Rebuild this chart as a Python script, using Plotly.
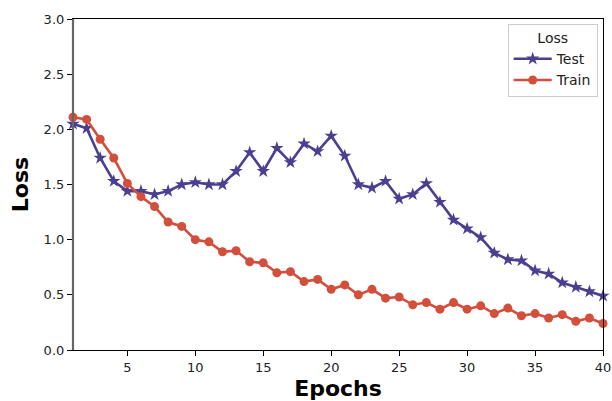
import plotly.graph_objects as go

epochs = list(range(1, 41))

test_loss = [2.05, 2.01, 1.74, 1.53, 1.44, 1.44, 1.41, 1.44, 1.50, 1.52,
             1.50, 1.50, 1.62, 1.79, 1.62, 1.83, 1.70, 1.87, 1.80, 1.94,
             1.76, 1.50, 1.47, 1.53, 1.37, 1.41, 1.51, 1.34, 1.18, 1.10,
             1.02, 0.88, 0.82, 0.81, 0.72, 0.69, 0.61, 0.57, 0.53, 0.49]

train_loss = [2.11, 2.09, 1.91, 1.74, 1.51, 1.39, 1.30, 1.16, 1.12, 1.00,
              0.98, 0.89, 0.90, 0.80, 0.79, 0.70, 0.71, 0.62, 0.64, 0.55,
              0.59, 0.50, 0.55, 0.47, 0.48, 0.41, 0.43, 0.37, 0.43, 0.37,
              0.40, 0.33, 0.38, 0.31, 0.33, 0.29, 0.32, 0.26, 0.29, 0.24]

x_ticks = [5, 10, 15, 20, 25, 30, 35, 40]
y_ticks = [0.0, 0.5, 1.0, 1.5, 2.0, 2.5, 3.0]

TEST_COLOR = "#4a3f91"
TRAIN_COLOR = "#d44f3b"

fig = go.Figure()
fig.add_trace(go.Scatter(
    x=epochs, y=test_loss, name="Test", mode="lines+markers",
    line=dict(color=TEST_COLOR, width=2.6),
    marker=dict(symbol="star", size=10, color=TEST_COLOR),
    cliponaxis=False,
))
fig.add_trace(go.Scatter(
    x=epochs, y=train_loss, name="Train", mode="lines+markers",
    line=dict(color=TRAIN_COLOR, width=2.6),
    marker=dict(symbol="circle", size=9, color=TRAIN_COLOR),
    cliponaxis=False,
))

tick_font = dict(family="DejaVu Sans", size=13, color="#222222")
title_font = dict(family="DejaVu Sans", size=22, color="black", weight="bold")
legend_font = dict(family="DejaVu Sans", size=14, color="#222222")

fig.update_layout(
    width=612, height=401,
    margin=dict(l=73, r=9, t=19, b=51),
    paper_bgcolor="white", plot_bgcolor="white",
    showlegend=True,
    legend=dict(
        title=dict(text="Loss", side="top center", font=legend_font),
        font=legend_font,
        x=0.99, y=0.985, xanchor="right", yanchor="top",
        bordercolor="#cccccc", borderwidth=1, bgcolor="rgba(255,255,255,0.9)",
        itemwidth=38, tracegroupgap=0,
    ),
)

fig.update_xaxes(
    range=[1, 40], tickvals=x_ticks, ticks="outside", ticklen=5,
    tickwidth=1, tickcolor="black", tickfont=tick_font,
    showgrid=False, zeroline=False, automargin=False,
    showline=True, linecolor="black", linewidth=1.2, mirror=True,
    title=dict(text="Epochs", font=title_font, standoff=17),
)
fig.update_yaxes(
    range=[0, 3], tickvals=y_ticks, tickformat=".1f", ticks="outside",
    ticklen=5, tickwidth=1, tickcolor="black", tickfont=tick_font,
    showgrid=False, zeroline=False, automargin=False,
    showline=True, linecolor="black", linewidth=1.2, mirror=True,
    title=dict(text="Loss", font=title_font, standoff=8),
)

# Grey left spine drawn over the black frame
fig.add_shape(type="line", xref="paper", yref="paper",
              x0=0, x1=0, y0=0, y1=1,
              line=dict(color="#666666", width=2.2))

fig.write_html("out.html")
